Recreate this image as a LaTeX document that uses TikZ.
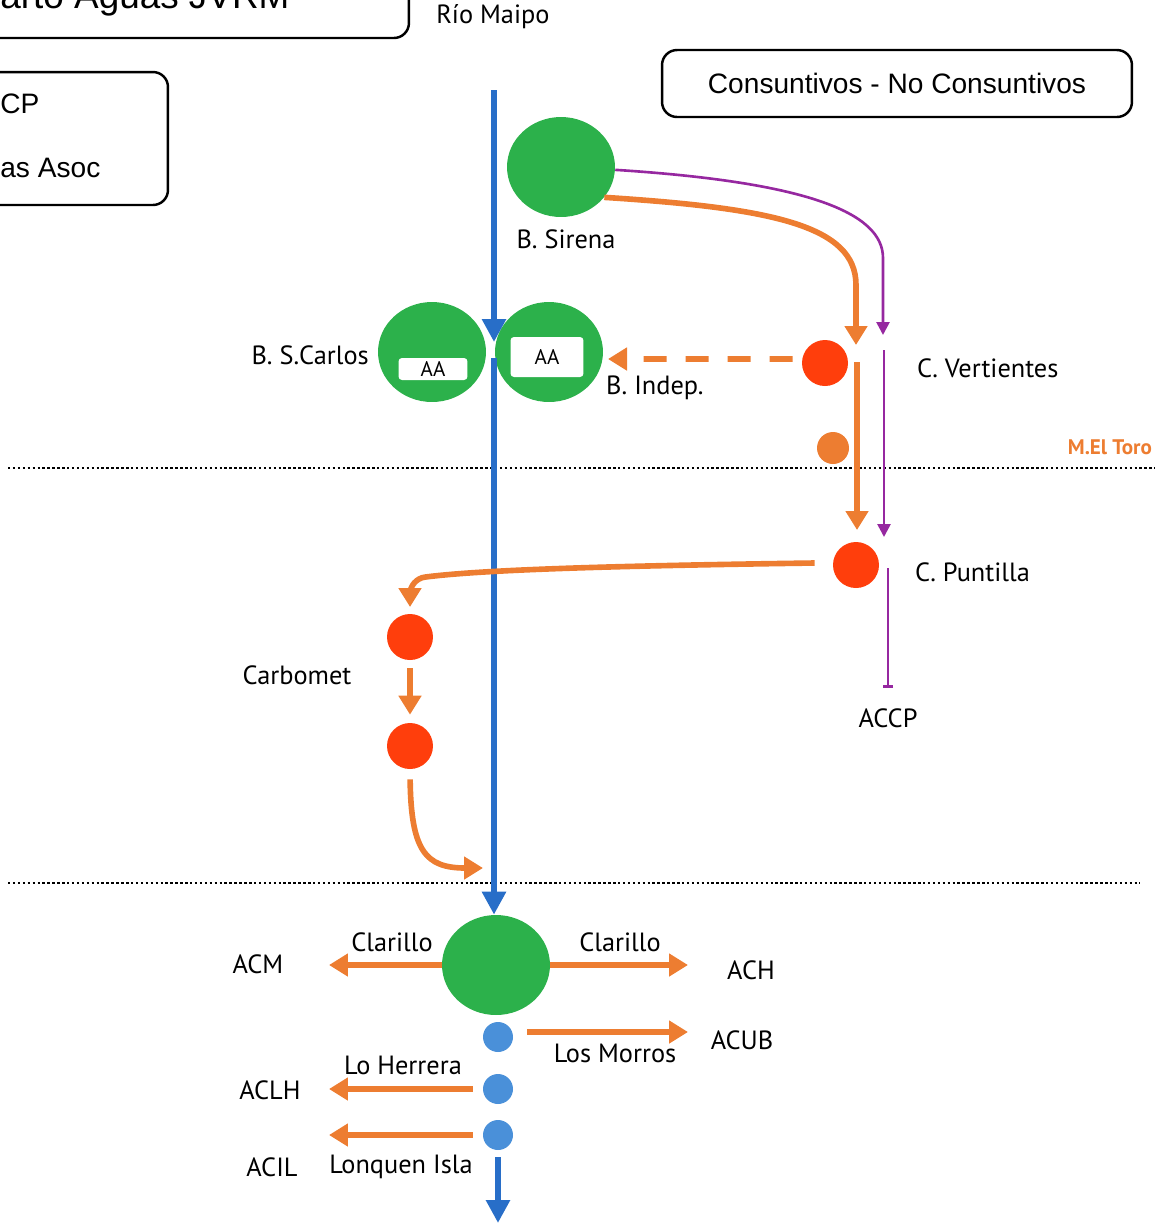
\documentclass[tikz,border=0pt]{standalone}
\usepackage{fontspec}
\setmainfont{PT Sans}
\newfontfamily\cajafont{Liberation Sans}
\usetikzlibrary{arrows.meta,shapes.geometric}

\definecolor{verde}{RGB}{44,177,75}
\definecolor{naranja}{RGB}{237,125,49}
\definecolor{rojo}{RGB}{255,62,12}
\definecolor{morado}{RGB}{150,40,160}
\definecolor{azul}{RGB}{40,110,200}
\definecolor{celeste}{RGB}{74,144,217}

\tikzset{
	bocatoma/.style={ellipse, fill=verde, minimum width=2.16cm, minimum height=2cm, inner sep=0pt},
	canal/.style={circle, fill=rojo, minimum size=0.92cm, inner sep=0pt},
	compuerta/.style={circle, fill=celeste, minimum size=0.6cm, inner sep=0pt},
	caja/.style={draw, line width=1.4pt, rounded corners=0.3cm},
	aa/.style={fill=white, rounded corners=2pt, inner sep=0pt, font=\fontsize{12}{14}\selectfont},
	flujo/.style={naranja, line width=3.2pt, -{Triangle[length=0.38cm,width=0.44cm]}},
	consumo/.style={morado, line width=1.5pt, -{Triangle[length=0.26cm,width=0.26cm]}},
	rio/.style={azul, line width=3.8pt, -{Triangle[length=0.46cm,width=0.46cm]}},
	limite/.style={line width=1.3pt, dash pattern=on 1.4pt off 1.4pt}
}

\begin{document}
\begin{tikzpicture}[x=0.02cm, y=-0.02cm, font=\fontsize{15}{18}\selectfont]
	\useasboundingbox (0,0) rectangle (1160,1225);
	\clip (0,0) rectangle (1160,1225);

	% cajas
	\node[caja, minimum width=10.44cm, minimum height=1.6cm] (reparto) at (148,-2) {};
	\node[anchor=base west, inner sep=0pt, font=\cajafont\fontsize{21}{24}\selectfont] (repartotxt) at (0,8) {arto Aguas JVRM};
	\node[caja, minimum width=5.36cm, minimum height=2.66cm] (leyenda) at (34,138.5) {};
	\node[anchor=base west, inner sep=0pt, font=\cajafont\fontsize{16}{19}\selectfont] (ccp) at (0,113) {CP};
	\node[anchor=base west, inner sep=0pt, font=\cajafont\fontsize{16}{19}\selectfont] (asoc) at (0,177) {as Asoc};
	\node[caja, minimum width=9.4cm, minimum height=1.34cm, font=\cajafont\fontsize{16}{19}\selectfont] (usos) at (897,83.5) {Consuntivos - No Consuntivos};

	\node (maipo) at (493,17) {Río Maipo};

	% bocatomas
	\node[bocatoma] (sirena) at (561,167) {};
	\node (lsirena) at (566,239) {B. Sirena};
	\node[bocatoma] (scarlos) at (432,352) {};
	\node[aa, minimum width=1.38cm, minimum height=0.44cm] (aascarlos) at (433,369) {AA};
	\node[anchor=east] (lscarlos) at (375,355) {B. S.Carlos};
	\node[bocatoma] (indep) at (549,352) {};
	\node[aa, minimum width=1.46cm, minimum height=0.8cm] (aaindep) at (547,357) {AA};
	\node[anchor=west] (lindep) at (600,388) {B. Indep.};
	\node[bocatoma] (union) at (496,965) {};
	\foreach \n/\y in {1/1037, 2/1089, 3/1135}
		\node[compuerta] (comp\n) at (498,\y) {};

	% canales
	\node[canal] (vert) at (825,363) {};
	\node[anchor=west] (lvert) at (911,368) {C. Vertientes};
	\node[circle, fill=naranja, minimum size=0.64cm, inner sep=0pt] (toro) at (833,448) {};
	\node[anchor=east, naranja, font=\bfseries\fontsize{12}{14}\selectfont] (ltoro) at (1158,447) {M.El Toro};
	\node[canal] (punt) at (856,565) {};
	\node[anchor=west] (lpunt) at (909,572) {C. Puntilla};
	\node (accp) at (888,718) {ACCP};
	\node[canal] (carb1) at (410,637) {};
	\node[canal] (carb2) at (410,746) {};
	\node (lcarb) at (297,675) {Carbomet};

	\draw[limite] (8,468) -- (1155,468);
	\draw[limite] (8,883) -- (1140,883);

	% extremos libres
	\coordinate (naciente) at (494,90);
	\coordinate (paso) at (494,342);
	\coordinate (reanuda) at (494,358);
	\coordinate (tvert) at (856,345);
	\coordinate (tvertm) at (883,335);
	\coordinate (vsal) at (857,362);
	\coordinate (tpunt) at (857,530);
	\coordinate (vsalm) at (884,350);
	\coordinate (tpuntm) at (884,537);
	\coordinate (psalm) at (888,568);
	\coordinate (tccp) at (888,688);
	\coordinate (tindep) at (608,359);
	\coordinate (tcarb) at (410,607);
	\coordinate (tentrada) at (483,868);

	% rio
	\draw[rio] (naciente) -- (paso);
	\draw[rio] (reanuda) -- (reanuda |- union.north);

	\draw[flujo] (sirena.-35) .. controls (770,208) and (856,225) .. (856,285) -- (tvert);
	\draw[consumo] (sirena.-3) .. controls (805,182) and (883,212) .. (883,258) -- (tvertm);
	\draw[flujo] (vsal) -- (tpunt);
	\draw[consumo] (vsalm) -- (tpuntm);
	\draw[consumo, -{Bar[width=0.2cm]}] (psalm) -- (tccp);
	\draw[flujo, dash pattern=on 0.46cm off 0.38cm] ([xshift=-0.18cm,yshift=0.08cm]vert.west) -- (tindep);
	\draw[flujo, rounded corners=0.3cm] ([xshift=-0.36cm,yshift=0.04cm]punt.west) .. controls (600,566) and (480,570) .. (410,579) -- (tcarb);
	\draw[flujo, shorten <=0.16cm, shorten >=0.16cm] (carb1.south) -- (carb2.north);
	\draw[flujo, shorten <=0.2cm] (carb2.south) .. controls (411,850) and (425,868) .. (tentrada);

	% confluencia
	\node (acm) at (258,964) {ACM};
	\node (clarm) at (392,942) {Clarillo};
	\node (clarh) at (620,942) {Clarillo};
	\node (ach) at (751,970) {ACH};
	\node (morros) at (615,1053) {Los Morros};
	\node (acub) at (742,1040) {ACUB};
	\node (herrera) at (403,1065) {Lo Herrera};
	\node (aclh) at (270,1090) {ACLH};
	\node (lonquen) at (401,1167) {Lonquen Isla};
	\node (acil) at (272,1167) {ACIL};

	\coordinate (tacm) at (329,965);
	\coordinate (tach) at (688,965);
	\coordinate (tacub) at (688,1032);
	\coordinate (taclh) at (329,1089);
	\coordinate (tacil) at (329,1135);
	\coordinate (desague) at (498,1223);

	\draw[flujo] (union.west) -- (tacm);
	\draw[flujo] (union.east) -- (tach);
	\draw[flujo] ([xshift=0.28cm]comp1.east |- tacub) -- (tacub);
	\draw[flujo] ([xshift=-0.2cm]comp2.west) -- (taclh);
	\draw[flujo] ([xshift=-0.2cm]comp3.west) -- (tacil);
	\draw[rio] ([yshift=-0.14cm]comp3.south) -- (desague);
\end{tikzpicture}
\end{document}
